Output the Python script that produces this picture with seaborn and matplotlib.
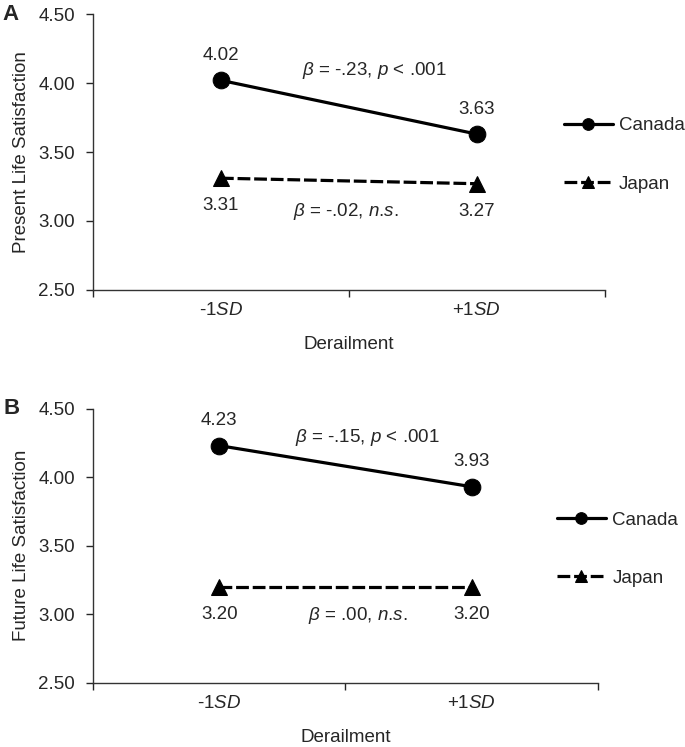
import pandas as pd
import matplotlib.pyplot as plt
import seaborn as sns
import numpy as np

# data
conditions = ['-1SD', '+1SD']
countries = ['Canada', 'Japan']
present_canada = [4.02, 3.63]
present_japan = [3.31, 3.27]
future_canada = [4.23, 3.93]
future_japan = [3.20, 3.20]
present_beta = [r'$\beta$ = -.23, $\it{p}$ < .001', r'$\beta$ = -.02, $\it{n}$.$\it{s}$.']
future_beta = [r'$\beta$ = -.15, $\it{p}$ < .001', r'$\beta$ = .00, $\it{n}$.$\it{s}$.']
tick_labels = [r'-1$\it{SD}$', r'+1$\it{SD}$']

sns.set_style('ticks')
plt.rcParams['font.family'] = ['Liberation Sans', 'DejaVu Sans']
plt.rcParams['mathtext.fontset'] = 'custom'
plt.rcParams['mathtext.rm'] = 'Liberation Sans'
plt.rcParams['mathtext.it'] = 'Liberation Sans:italic'
plt.rcParams['mathtext.bf'] = 'Liberation Sans:bold'

FS = 13.5


def make_df(canada, japan):
    rows = []
    for i, c in enumerate(conditions):
        rows.append({'x': i, 'cond': c, 'country': 'Canada', 'y': canada[i]})
        rows.append({'x': i, 'cond': c, 'country': 'Japan', 'y': japan[i]})
    return pd.DataFrame(rows)


fig = plt.figure(figsize=(6.85, 7.47), dpi=100)
ax_a = fig.add_axes([0.1358, 0.612, 0.747, 0.369])
ax_b = fig.add_axes([0.1358, 0.086, 0.737, 0.367])

panels = [
    (ax_a, present_canada, present_japan, present_beta, 'Present Life Satisfaction', 'A',
     [(0.60, 4.09), (0.49, 3.065)], (0.92, 0.49)),
    (ax_b, future_canada, future_japan, future_beta, 'Future Life Satisfaction', 'B',
     [(0.585, 4.29), (0.55, 2.99)], (0.919, 0.487)),
]

for ax, canada, japan, betas, ylab, letter, beta_pos, leg_pos in panels:
    df = make_df(canada, japan)
    sns.lineplot(data=df, x='x', y='y', hue='country', style='country',
                 palette={'Canada': 'black', 'Japan': 'black'},
                 markers={'Canada': 'o', 'Japan': '^'},
                 dashes={'Canada': '', 'Japan': (4, 1.2)},
                 markersize=12, markeredgecolor='black', linewidth=2.3,
                 ax=ax)

    # value labels
    for i in range(len(conditions)):
        ax.annotate('%.2f' % canada[i], (i, canada[i]), xytext=(0, 18),
                    textcoords='offset points', ha='center', va='center', fontsize=FS)
        ax.annotate('%.2f' % japan[i], (i, japan[i]), xytext=(0, -20),
                    textcoords='offset points', ha='center', va='center', fontsize=FS)

    for b, (bx, by) in zip(betas, beta_pos):
        ax.text(bx, by, b, ha='center', va='center', fontsize=FS)

    ax.set_xlim(-0.5, 1.5)
    ax.set_ylim(2.5, 4.5)
    ax.set_yticks([2.5, 3.0, 3.5, 4.0, 4.5])
    ax.set_yticklabels(['%.2f' % v for v in [2.5, 3.0, 3.5, 4.0, 4.5]])
    ax.set_xticks([-0.5, 0.5, 1.5])
    ax.set_xticklabels([])
    ax.set_xticks([0, 1], minor=True)
    ax.set_xticklabels(tick_labels, minor=True)
    ax.tick_params(axis='x', which='minor', length=0, pad=9, labelsize=FS)
    ax.tick_params(axis='x', which='major', length=5, width=1)
    ax.tick_params(axis='y', length=5, width=1, labelsize=FS, pad=8)
    ax.set_xlabel('Derailment', fontsize=FS, labelpad=12)
    ax.set_ylabel(ylab, fontsize=FS, labelpad=6)
    sns.despine(ax=ax)
    for s in ['left', 'bottom']:
        ax.spines[s].set_linewidth(1)
        ax.spines[s].set_color('#333333')

    ax.text(-0.178, 1.0, letter, transform=ax.transAxes, fontsize=16,
            fontweight='bold', ha='left', va='center')

    leg = ax.legend(loc='center left', bbox_to_anchor=leg_pos, frameon=False,
                    fontsize=FS, handlelength=2.6, handletextpad=0.35,
                    labelspacing=2.2, borderaxespad=0, borderpad=0,
                    markerscale=0.7)
    for h in leg.legend_handles:
        h.set_linewidth(2.3)

fig.savefig('out.png', dpi=100)
